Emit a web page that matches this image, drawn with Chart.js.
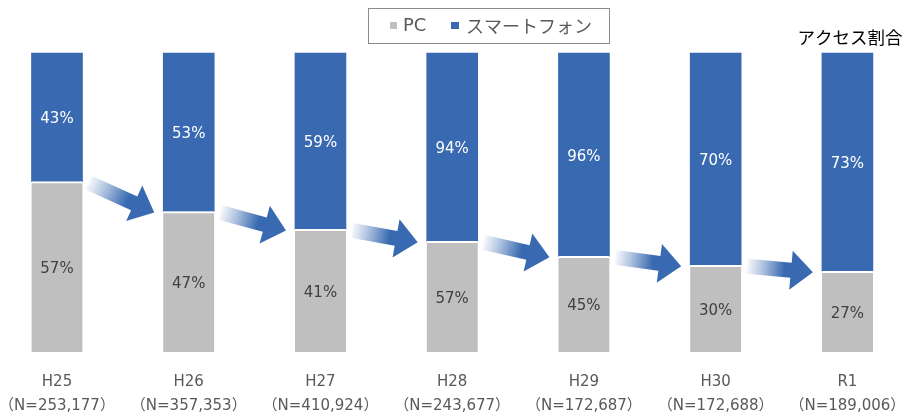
<!DOCTYPE html>
<html><head><meta charset="utf-8">
<script src="https://cdn.jsdelivr.net/npm/chart.js@4"></script>
<style>html,body{margin:0;padding:0;background:#fff;}</style>
</head><body>
<canvas id="c" width="906" height="413"></canvas>
<script>
const years = ['H25','H26','H27','H28','H29','H30','R1'];
const sampleSizes = ['（N=253,177）','（N=357,353）','（N=410,924）','（N=243,677）','（N=172,687）','（N=172,688）','（N=189,006）'];
const pcShare = [57,47,41,37,32,29,27];
const smartphoneShare = [43,53,59,63,68,71,73];
const pcLabels = ['57%','47%','41%','57%','45%','30%','27%'];
const smartphoneLabels = ['43%','53%','59%','94%','96%','70%','73%'];
const seriesNames = ['PC','スマートフォン'];
const chartTitle = 'アクセス割合';

const GRAY = '#BFBFBF';
const BLUE = '#396AB1';
const FONT = "'Noto Sans CJK JP', 'Noto Sans', sans-serif";
const LFONT = "'DejaVu Sans', 'Noto Sans CJK JP', sans-serif";

function drawArrow(ctx, x0, y0, x1, y1) {
  const L = Math.hypot(x1 - x0, y1 - y0);
  const dx = (x1 - x0) / L, dy = (y1 - y0) / L;
  const nx = -dy, ny = dx;
  const hw = 7.5, HW = 19.5, hl = 22;
  const bx = x1 - dx * hl, by = y1 - dy * hl;
  const g = ctx.createLinearGradient(x0, y0, bx, by);
  g.addColorStop(0, 'rgba(57,106,177,0.04)');
  g.addColorStop(0.35, 'rgba(57,106,177,0.4)');
  g.addColorStop(0.85, 'rgba(57,106,177,1)');
  g.addColorStop(1, 'rgba(57,106,177,1)');
  ctx.save();
  ctx.beginPath();
  ctx.moveTo(x0 - nx * hw, y0 - ny * hw);
  ctx.lineTo(bx - nx * hw, by - ny * hw);
  ctx.lineTo(bx - nx * HW, by - ny * HW);
  ctx.lineTo(x1, y1);
  ctx.lineTo(bx + nx * HW, by + ny * HW);
  ctx.lineTo(bx + nx * hw, by + ny * hw);
  ctx.lineTo(x0 + nx * hw, y0 + ny * hw);
  ctx.closePath();
  ctx.fillStyle = g;
  ctx.fill();
  ctx.restore();
}

const overlay = {
  id: 'overlay',
  afterDatasetsDraw(chart) {
    const ctx = chart.ctx;
    const gray = chart.getDatasetMeta(0).data;
    const blue = chart.getDatasetMeta(1).data;
    for (let i = 0; i < gray.length - 1; i++) {
      const a = gray[i], b = gray[i + 1];
      drawArrow(ctx, a.x + a.width / 2 + 6, a.y + 1, b.x - b.width / 2 - 9, b.y + 1);
    }
    ctx.save();
    ctx.font = '15px ' + LFONT;
    ctx.textAlign = 'center';
    ctx.textBaseline = 'middle';
    gray.forEach((el, i) => {
      ctx.fillStyle = '#404040';
      ctx.fillText(pcLabels[i], el.x, (el.y + el.base) / 2 + 2);
    });
    blue.forEach((el, i) => {
      ctx.fillStyle = '#FFFFFF';
      ctx.fillText(smartphoneLabels[i], el.x, (el.y + el.base) / 2 + 2);
    });
    ctx.restore();
  },
  afterDraw(chart) {
    const ctx = chart.ctx;
    ctx.save();
    // legend
    ctx.strokeStyle = '#8C8C8C';
    ctx.lineWidth = 1;
    ctx.strokeRect(368.5, 8.5, 241, 35);
    ctx.font = '18px ' + LFONT;
    ctx.textBaseline = 'middle';
    ctx.textAlign = 'left';
    const ds = chart.data.datasets;
    ctx.fillStyle = ds[0].backgroundColor;
    ctx.fillRect(390, 22, 7, 7);
    ctx.fillStyle = '#595959';
    ctx.fillText(ds[0].label, 403, 26.5);
    ctx.fillStyle = ds[1].backgroundColor;
    ctx.fillRect(451, 22, 8, 7);
    ctx.fillStyle = '#595959';
    ctx.font = '18px ' + FONT;
    ctx.fillText(ds[1].label, 466, 26.5);
    // title
    ctx.fillStyle = '#000000';
    ctx.font = '17.5px ' + FONT;
    ctx.textAlign = 'center';
    ctx.fillText(chartTitle, 850, 37);
    ctx.restore();
  }
};

new Chart(document.getElementById('c'), {
  type: 'bar',
  data: {
    labels: years.map((y, i) => [y, sampleSizes[i]]),
    datasets: [
      { label: seriesNames[0], data: pcShare, backgroundColor: GRAY,
        borderColor: '#FFFFFF', borderWidth: {top: 2, left: 0, right: 0, bottom: 0}, borderSkipped: false,
        barThickness: 51, clip: false },
      { label: seriesNames[1], data: smartphoneShare, backgroundColor: BLUE,
        borderWidth: 0, barThickness: 51, clip: false }
    ]
  },
  options: {
    responsive: false,
    animation: false,
    devicePixelRatio: 1,
    layout: { padding: { top: 53, left: 57, right: 58.6, bottom: 0 } },
    plugins: { legend: { display: false }, tooltip: { enabled: false } },
    scales: {
      x: {
        stacked: true,
        offset: false,
        grid: { display: false, drawTicks: false },
        border: { display: false },
        ticks: { color: '#595959', font: { family: LFONT, size: 15, lineHeight: 1.6 }, padding: 18, maxRotation: 0, autoSkip: false },
        afterFit(scale) { scale.height = 61; scale.paddingLeft = 0; scale.paddingRight = 0; }
      },
      y: {
        stacked: true,
        display: false,
        min: 0, max: 100
      }
    }
  },
  plugins: [overlay]
});
</script>
</body></html>
